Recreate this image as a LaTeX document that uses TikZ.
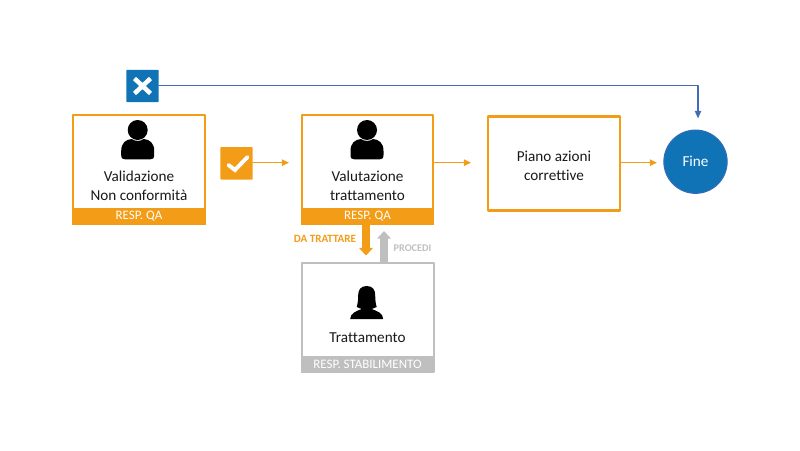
\documentclass[tikz,border=0pt]{standalone}
\usepackage{fontspec}
\setmainfont[Ligatures=NoCommon]{Carlito}
\usetikzlibrary{arrows.meta}
\definecolor{qaorange}{rgb}{0.95,0.61,0.09}
\definecolor{stgrey}{rgb}{0.75,0.75,0.75}
\definecolor{fineblue}{rgb}{0.06,0.45,0.71}
\definecolor{lineblue}{rgb}{0.26,0.42,0.72}
\definecolor{txtgrey}{rgb}{0.1,0.1,0.1}
\tikzset{
	boxqa/.style={draw=qaorange,line width=1.5pt,fill=white,minimum width=3.28cm,minimum height=2.72cm},
	boxst/.style={boxqa,draw=stgrey},
	bandqa/.style={fill=qaorange,text=white,font=\fontsize{9.2}{10}\selectfont,minimum width=3.33cm,minimum height=0.41cm,inner sep=0pt},
	bandst/.style={bandqa,fill=stgrey},
	txt/.style={align=center,text=txtgrey,font=\fontsize{10.8}{13.5}\selectfont,inner sep=0pt},
	iconbox/.style={minimum width=0.81cm,minimum height=0.81cm,rounded corners=0.5pt,inner sep=0pt},
	flow/.style={draw=qaorange,line width=1pt,-{Triangle[width=4.5pt,length=5pt]}},
	fat/.style={line width=5.4pt,line cap=butt,-{Triangle[width=9.6pt,length=5.4pt]}},
	man/.pic={
		\fill (0,0) circle (10);
		\fill (-16.5,21) .. controls (-16.5,13) and (-12,9.5) .. (-6,9) .. controls (-3,11.5) and (3,11.5) .. (6,9) .. controls (12,9.5) and (16.5,13) .. (16.5,21) -- (16.5,25) .. controls (16.5,28.5) and (15,29.5) .. (12,29.5) -- (-12,29.5) .. controls (-15,29.5) and (-16.5,28.5) .. (-16.5,25) -- cycle;
	},
	woman/.pic={
		\fill (0,0) .. controls (6,0) and (8.5,4) .. (8.5,9) .. controls (8.5,14) and (9,18) .. (10,21) .. controls (8,22) and (6,22.5) .. (5,23) .. controls (10,25) and (16.5,27) .. (16.5,33) -- (-16.5,33) .. controls (-16.5,27) and (-10,25) .. (-5,23) .. controls (-6,22.5) and (-8,22) .. (-10,21) .. controls (-9,18) and (-8.5,14) .. (-8.5,9) .. controls (-8.5,4) and (-6,0) .. (0,0) -- cycle;
	}
}

\begin{document}
\begin{tikzpicture}[line cap=round,line join=round,x=0.025cm,y=-0.025cm]
		\useasboundingbox (0,0) rectangle (800,451);
		% boxes
		\node [boxqa] (validazione) at (139,169.5) {};
		\node [boxqa] (valutazione) at (367.5,169.5) {};
		\node [boxst] (trattamento) at (368,317.5) {};
		\node [draw=qaorange,line width=1.5pt,minimum width=3.28cm,minimum height=2.35cm] (piano) at (554,163.5) {};
		\node [bandqa] (respval) at (139,216.3) {RESP. QA};
		\node [bandqa] (respvlt) at (367.5,216.3) {RESP. QA};
		\node [bandst] (respstb) at (367.5,364.5) {RESP. STABILIMENTO};
		% texts
		\node [txt] (txtval) at (139,186) {Validazione\\Non conformità};
		\node [txt] (txtvlt) at (367.5,186) {Valutazione\\trattamento};
		\node [txt] (txttrt) at (367.5,337.5) {Trattamento};
		\node [txt] (txtpia) at (554,166) {Piano azioni\\correttive};
		\node [circle,draw=lineblue!70!fineblue,line width=0.8pt,fill=fineblue,text=white,minimum size=1.58cm,inner sep=0pt,font=\fontsize{10.8}{12}\selectfont] (fine) at (695.5,161.7) {Fine};
		% icons
		\node [iconbox,fill=fineblue] (nobox) at (142.5,86) {};
		\node [iconbox,fill=qaorange] (okbox) at (236.5,163.3) {};
		\draw [white,line width=3.2pt,line cap=butt] (134.5,78.5) -- (150.5,93.5) (150.5,78.5) -- (134.5,93.5);
		\draw [white,line width=2.8pt,line cap=round,line join=miter] (228.5,165) -- (235,170) -- (247.5,157);
		\pic at (137.7,130) {man};
		\pic at (367,130) {man};
		\pic at (366.7,286) {woman};
		% free ends
		\coordinate (okend) at (289,162.7);
		\coordinate (vltend) at (471,162.7);
		\coordinate (piaend) at (657,162.7);
		\coordinate (fineend) at (698,118.5);
		\coordinate (corner) at (698,85.5);
		\coordinate (datop) at (366,224);
		\coordinate (daend) at (366,255.5);
		\coordinate (prbase) at (384,263);
		\coordinate (prend) at (384,231);
		% connectors
		\draw [flow] (okbox.east |- okend) -- (okend);
		\draw [flow] (valutazione.east |- vltend) -- (vltend);
		\draw [flow] (piano.east |- piaend) -- (piaend);
		\draw [draw=lineblue,line width=1pt,-{Triangle[width=4.5pt,length=5.5pt]}] (nobox.east |- corner) -- (corner) -- (fineend);
		\draw [fat,draw=qaorange,fill=qaorange] (datop) -- (daend);
		\draw [fat,draw=stgrey,fill=stgrey] (prbase) -- (prend);
		\node [text=qaorange,font=\bfseries\fontsize{7.9}{9}\selectfont,inner sep=0pt] (datrattare) at (325,238.5) {DA TRATTARE};
		\node [text=stgrey,font=\bfseries\fontsize{7.3}{8}\selectfont,inner sep=0pt] (procedi) at (412.5,248.5) {PROCEDI};
		\end{tikzpicture}
\end{document}
